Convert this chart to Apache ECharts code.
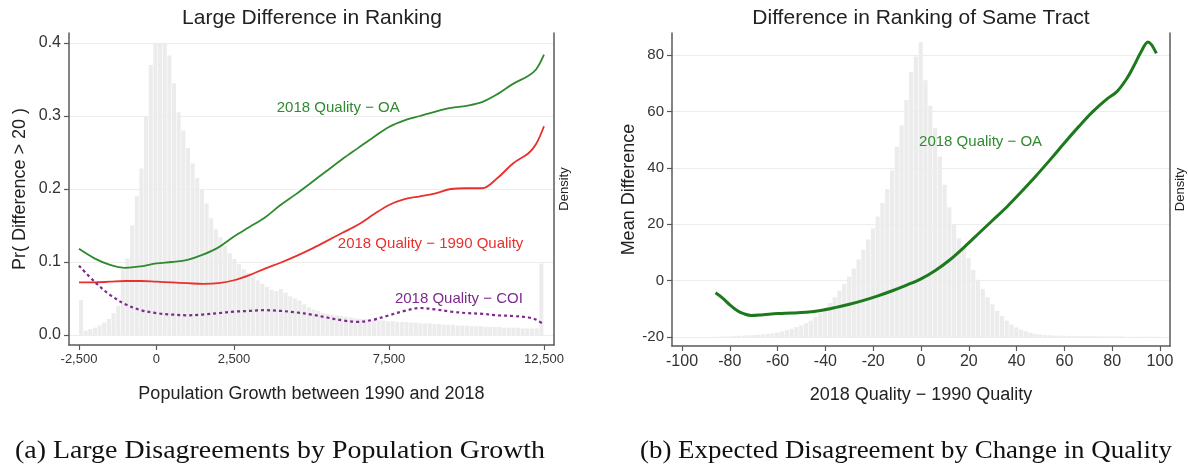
<!DOCTYPE html>
<html><head><meta charset="utf-8">
<script src="https://cdn.jsdelivr.net/npm/echarts@6/dist/echarts.min.js"></script>
<style>html,body{margin:0;padding:0;background:#fff}#c{width:1188px;height:465px}</style>
</head><body><div id="c"></div>
<script>
// ---------- Panel (a) data ----------
const growthX = [-2500,-2000,-1500,-1000,-500,0,500,1000,1500,2000,2500,3000,3500,4000,4500,5000,5500,6000,6500,7000,7500,8000,8500,9000,9500,10000,10500,11000,11500,12000,12250,12500];
const oaByGrowth = [0.118,0.105,0.096,0.092,0.094,0.098,0.100,0.103,0.110,0.120,0.135,0.148,0.161,0.178,0.193,0.209,0.225,0.241,0.256,0.271,0.285,0.294,0.300,0.306,0.311,0.314,0.319,0.330,0.344,0.355,0.364,0.384];
const q1990ByGrowth = [0.072,0.072,0.073,0.074,0.074,0.073,0.072,0.071,0.070,0.071,0.075,0.082,0.091,0.099,0.108,0.118,0.129,0.140,0.151,0.165,0.178,0.186,0.190,0.194,0.200,0.201,0.201,0.215,0.235,0.249,0.262,0.286];
const coiByGrowth = [0.095,0.073,0.055,0.042,0.034,0.030,0.028,0.027,0.028,0.030,0.032,0.033,0.034,0.033,0.031,0.028,0.024,0.020,0.018,0.021,0.027,0.033,0.037,0.035,0.032,0.030,0.029,0.027,0.026,0.024,0.021,0.014];
const growthTicks = [-2500,0,2500,7500,12500];
const prTicks = [0,0.1,0.2,0.3,0.4];
// histogram of population growth (bin start, bin width, heights on the Pr scale)
const growthBinStart = -2500, growthBinWidth = 150;
const growthHist = [0.048,0.006,0.008,0.010,0.013,0.017,0.022,0.030,0.040,0.090,
 0.105,0.150,0.190,0.228,0.300,0.370,0.400,0.400,0.400,0.383,
 0.345,0.305,0.280,0.256,0.235,0.215,0.200,0.180,0.160,0.145,
 0.134,0.122,0.112,0.104,0.097,0.090,0.085,0.080,0.075,0.070,
 0.066,0.062,0.060,0.063,0.058,0.053,0.050,0.047,0.042,0.038,
 0.035,0.033,0.030,0.029,0.028,0.027,0.026,0.025,0.024,0.023,
 0.022,0.022,0.021,0.021,0.020,0.020,0.019,0.019,0.018,0.018,
 0.018,0.017,0.017,0.016,0.016,0.016,0.015,0.015,0.014,0.014,
 0.014,0.013,0.013,0.013,0.012,0.012,0.012,0.011,0.011,0.011,
 0.011,0.010,0.010,0.010,0.010,0.009,0.009,0.009,0.009,0.098];

// ---------- Panel (b) data ----------
const qualityX = [-86,-83,-80,-77,-74,-71,-66,-60,-54,-48,-42,-36,-30,-24,-18,-12,-6,0,6,12,18,24,30,36,42,48,54,60,66,72,78,82,86,89,92,95,98.5];
const meanDiff = [-4.3,-6.2,-8.6,-10.6,-11.8,-12.4,-12.1,-11.7,-11.5,-11.2,-10.6,-9.6,-8.4,-7.0,-5.4,-3.6,-1.6,0.6,3.6,7.3,11.8,16.6,21.4,26.2,31.5,37.0,42.8,48.8,54.6,60.0,64.5,67.0,71.5,76.0,81.0,84.6,80.6];
const qualityTicks = [-100,-80,-60,-40,-20,0,20,40,60,80,100];
const meanTicks = [-20,0,20,40,60,80];
// histogram of quality change (bins of width 2 from -87; bar tops on the Mean Difference scale, base -20)
const qualityBinStart = -87, qualityBinWidth = 2, qualityHistBase = -20;
const qualityHist = [-19.9,-19.9,-19.8,-19.8,-19.7,-19.6,-19.5,-19.4,-19.3,-19.2,
 -19.1,-18.9,-18.7,-18.4,-18.0,-17.6,-17.1,-16.5,-15.9,-15.1,
 -14.2,-13.0,-11.6,-9.9,-8.0,-5.9,-3.6,-1.2,1.4,4.3,
 7.5,11.0,14.6,18.5,22.7,27.5,32.5,39.0,47.5,55.0,
 64.0,74.0,79.5,84.5,71.0,62.0,54.0,44.0,34.0,26.0,
 20.0,15.0,12.0,8.0,3.8,0.3,-3.0,-5.9,-8.4,-10.7,
 -12.6,-14.2,-15.6,-16.6,-17.4,-18.0,-18.5,-18.9,-19.1,-19.3,
 -19.4,-19.5,-19.5,-19.6,-19.6,-19.6,-19.7,-19.7,-19.7,-19.7,
 -19.8,-19.8,-19.8,-19.8,-19.8,-19.8,-19.9,-19.9,-19.9,-19.9,
 -19.9,-19.9,-19.9,-19.9];

// ---------- build ----------
const SANS = '"Liberation Sans", Arial, sans-serif';
const AX = '#5a5a5a';
const pairs = (xs, ys) => xs.map((x, i) => [x, ys[i]]);
const histData = (start, w, hs) => hs.map((h, i) => [start + w * i, start + w * (i + 1), h]);

function histSeries(xi, yi, data, base) {
  return {
    type: 'custom', xAxisIndex: xi, yAxisIndex: yi, silent: true, z: 1,
    data: data, encode: { x: [0, 1], y: 2 },
    renderItem(params, api) {
      const p0 = api.coord([api.value(0), api.value(2)]);
      const p1 = api.coord([api.value(1), base]);
      return { type: 'rect',
        shape: { x: p0[0], y: p0[1], width: Math.max(p1[0] - p0[0] - 0.6, 0.4), height: p1[1] - p0[1] },
        style: { fill: '#ececec' } };
    }
  };
}

function xAxisOf(grid, min, max, ticks, fmt, fontSize, name) {
  return {
    type: 'value', gridIndex: grid, min: min, max: max,
    axisLine: { show: true, onZero: false, lineStyle: { color: AX, width: 1.5 } },
    axisTick: { show: true, length: 5, customValues: ticks, lineStyle: { color: AX, width: 1.2 } },
    axisLabel: { customValues: ticks, formatter: fmt, fontSize: fontSize, color: '#333', margin: 8, fontFamily: SANS },
    splitLine: { show: false },
    name: name, nameLocation: 'middle', nameGap: 40,
    nameTextStyle: { fontSize: 18, color: '#222', fontFamily: SANS }
  };
}
function yAxisOf(grid, min, max, ticks, fmt, fontSize, name, gap) {
  return {
    type: 'value', gridIndex: grid, min: min, max: max,
    axisLine: { show: true, onZero: false, lineStyle: { color: AX, width: 1.5 } },
    axisTick: { show: true, length: 5, customValues: ticks, lineStyle: { color: AX, width: 1.2 } },
    axisLabel: { customValues: ticks, formatter: fmt, fontSize: fontSize, color: '#333', margin: 8, fontFamily: SANS },
    splitLine: { show: true, lineStyle: { color: '#ededed', width: 1 } },
    name: name, nameLocation: 'middle', nameGap: gap, nameRotate: 90,
    nameTextStyle: { fontSize: 18, color: '#222', fontFamily: SANS }
  };
}
function densityAxis(grid) {
  return {
    type: 'value', gridIndex: grid, position: 'right', min: 0, max: 1,
    axisLine: { show: true, onZero: false, lineStyle: { color: AX, width: 1.5 } },
    axisTick: { show: false }, axisLabel: { show: false }, splitLine: { show: false },
    name: 'Density', nameLocation: 'middle', nameGap: 4, nameRotate: 90,
    nameTextStyle: { fontSize: 13, color: '#222', fontFamily: SANS }
  };
}
function lineLabel(coord, text, color) {
  return { symbol: 'circle', symbolSize: 0, silent: true,
    itemStyle: { color: 'rgba(0,0,0,0)' },
    label: { show: true, position: 'right', distance: 0, formatter: text, color: color, fontSize: 15, fontFamily: SANS },
    data: [{ coord: coord }] };
}
const comma = v => (v < 0 ? '-' : '') + Math.abs(v).toLocaleString('en-US');

const option = {
  backgroundColor: '#fff',
  animation: false,
  grid: [
    { left: 69, top: 33, width: 485, height: 312 },
    { left: 672, top: 33, width: 498, height: 313 }
  ],
  xAxis: [
    xAxisOf(0, -2822, 12823, growthTicks, comma, 13, 'Population Growth between 1990 and 2018'),
    xAxisOf(1, -104.2, 104.2, qualityTicks, v => String(v), 16, '2018 Quality \u2212 1990 Quality')
  ],
  yAxis: [
    yAxisOf(0, -0.0137, 0.4137, prTicks, v => v.toFixed(1), 16, 'Pr( Difference > 20 )', 40),
    densityAxis(0),
    yAxisOf(1, -23.2, 87.8, meanTicks, v => String(v), 15, 'Mean Difference', 29),
    densityAxis(1)
  ],
  series: [
    histSeries(0, 0, histData(growthBinStart, growthBinWidth, growthHist), 0),
    { type: 'line', xAxisIndex: 0, yAxisIndex: 0, data: pairs(growthX, oaByGrowth), smooth: 0.35, symbol: 'none', z: 3,
      lineStyle: { color: '#2f8a2f', width: 1.8 },
      markPoint: lineLabel([3880, 0.311], '2018 Quality \u2212 OA', '#2f8a2f') },
    { type: 'line', xAxisIndex: 0, yAxisIndex: 0, data: pairs(growthX, q1990ByGrowth), smooth: 0.35, symbol: 'none', z: 3,
      lineStyle: { color: '#e8302c', width: 1.8 },
      markPoint: lineLabel([5850, 0.125], '2018 Quality \u2212 1990 Quality', '#e8302c') },
    { type: 'line', xAxisIndex: 0, yAxisIndex: 0, data: pairs(growthX, coiByGrowth), smooth: 0.35, symbol: 'none', z: 3,
      lineStyle: { color: '#7d2a8c', width: 2.2, type: [3, 3] },
      markPoint: lineLabel([7690, 0.049], '2018 Quality \u2212 COI', '#7d2a8c') },
    histSeries(1, 2, histData(qualityBinStart, qualityBinWidth, qualityHist), qualityHistBase),
    { type: 'line', xAxisIndex: 1, yAxisIndex: 2, data: pairs(qualityX, meanDiff), smooth: 0.35, symbol: 'none', z: 3,
      lineStyle: { color: '#1c7a1c', width: 3 },
      markPoint: lineLabel([-0.8, 49.3], '2018 Quality \u2212 OA', '#2f8a2f') }
  ]
};

// titles and sub-figure captions
const captionFont = '25px "Liberation Serif", "Times New Roman", serif';
const mctx = document.createElement('canvas').getContext('2d');
mctx.font = captionFont;
function caption(text, cx, targetW) {
  const w = mctx.measureText(text).width || targetW;
  return { type: 'text', x: cx, y: 451, scaleX: targetW / w, silent: true,
    style: { text: text, font: captionFont, fill: '#111', align: 'center', verticalAlign: 'middle' } };
}
option.graphic = [
  { type: 'text', x: 312, y: 18, silent: true,
    style: { text: 'Large Difference in Ranking', fontSize: 21, fontFamily: SANS, fill: '#222', align: 'center', verticalAlign: 'middle' } },
  { type: 'text', x: 921, y: 18, silent: true,
    style: { text: 'Difference in Ranking of Same Tract', fontSize: 21, fontFamily: SANS, fill: '#222', align: 'center', verticalAlign: 'middle' } },
  caption('(a) Large Disagreements by Population Growth', 280, 530),
  caption('(b) Expected Disagreement by Change in Quality', 906, 532)
];

const chart = echarts.init(document.getElementById('c'), null, { renderer: 'canvas' });
chart.setOption(option);
</script>
</body></html>
